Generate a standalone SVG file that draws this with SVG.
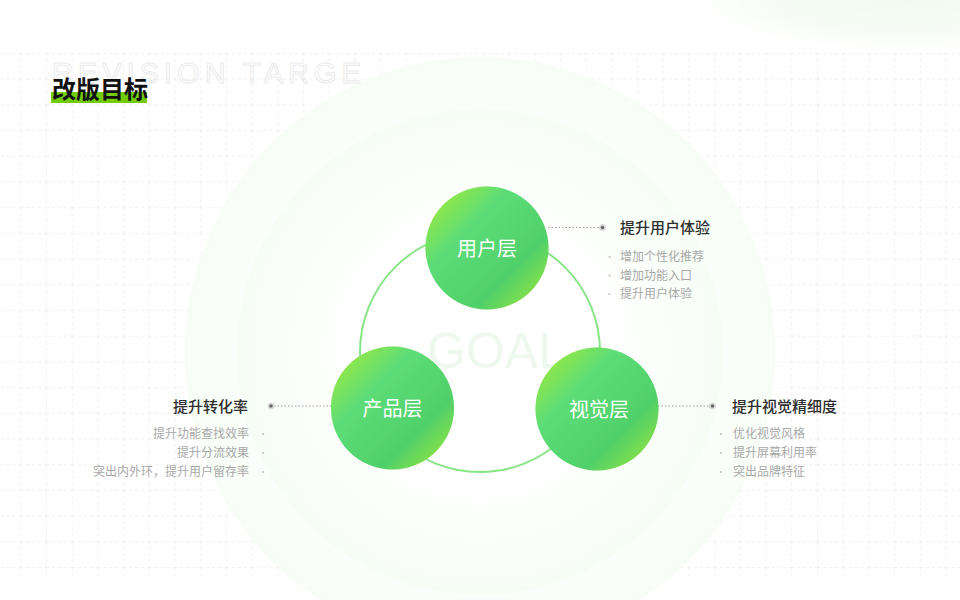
<svg xmlns="http://www.w3.org/2000/svg" width="960" height="600" viewBox="0 0 960 600">
  <defs>
    <style>
      .cjk { font-family: "Noto Sans CJK SC", "Noto Sans", sans-serif; }
      .head { font-family: "Noto Sans CJK SC", sans-serif; font-size: 15px; font-weight: 500; fill: #2e2e2e; }
      .item { font-family: "Noto Sans CJK SC", sans-serif; font-size: 12px; fill: #a8a8a8; }
      .nodelabel { font-family: "Noto Sans CJK SC", sans-serif; font-size: 20px; font-weight: 400; fill: #ffffff; text-anchor: middle; }
      .dotline { stroke: #9a9a9a; stroke-width: 1; stroke-dasharray: 1.5 2; fill: none; }
      .bullet { fill: #c4c4c4; }
      .halo { fill: #dcdcdc; }
      .core { fill: #6a6a6a; }
    </style>
    <pattern id="grid" patternUnits="userSpaceOnUse" x="20.3" y="53" width="25.7" height="25.7">
      <path d="M0 0.5 H25.7 M0.5 0 V25.7" stroke="#f0f0f0" stroke-width="1" stroke-dasharray="3 3" fill="none"/>
    </pattern>
    <radialGradient id="topglow" cx="0.5" cy="0.5" r="0.5">
      <stop offset="0" stop-color="#f0fbee" stop-opacity="1"/>
      <stop offset="0.6" stop-color="#f5fcf4" stop-opacity="0.8"/>
      <stop offset="1" stop-color="#ffffff" stop-opacity="0"/>
    </radialGradient>
    <radialGradient id="ring3" cx="0.5" cy="0.5" r="0.5">
      <stop offset="0.75" stop-color="#fcfffc"/>
      <stop offset="1" stop-color="#f7fdf6"/>
    </radialGradient>
    <radialGradient id="ring2" cx="0.5" cy="0.5" r="0.5">
      <stop offset="0.7" stop-color="#fcfffc"/>
      <stop offset="1" stop-color="#f6fdf5"/>
    </radialGradient>
    <radialGradient id="ring1" cx="0.5" cy="0.5" r="0.5">
      <stop offset="0.6" stop-color="#ffffff"/>
      <stop offset="1" stop-color="#fbfefb"/>
    </radialGradient>
    <radialGradient id="outerfade" cx="0.5" cy="0.5" r="0.5">
      <stop offset="0.8" stop-color="#f8fdf7" stop-opacity="0.9"/>
      <stop offset="1" stop-color="#ffffff" stop-opacity="0"/>
    </radialGradient>
    <linearGradient id="nodefill" x1="0.1" y1="0.1" x2="0.9" y2="0.9">
      <stop offset="0" stop-color="#95e842"/>
      <stop offset="0.3" stop-color="#5ddd78"/>
      <stop offset="0.75" stop-color="#50d06a"/>
      <stop offset="1" stop-color="#8ae245"/>
    </linearGradient>
    <filter id="glow" x="-40%" y="-40%" width="180%" height="180%">
      <feGaussianBlur in="SourceAlpha" stdDeviation="7"/>
      <feFlood flood-color="#86e36a" flood-opacity="0.5"/>
      <feComposite operator="in" in2="SourceAlpha"/>
      <feMerge>
        <feMergeNode/>
        <feMergeNode in="SourceGraphic"/>
      </feMerge>
    </filter>
  </defs>

  <rect x="0" y="0" width="960" height="600" fill="#ffffff"/>
  <!-- grid -->
  <rect x="0" y="52" width="960" height="526" fill="url(#grid)"/>
  <!-- top-right glow -->
  <ellipse cx="910" cy="0" rx="250" ry="58" fill="url(#topglow)"/>

  <!-- concentric background rings -->
  <g id="background-rings">
    <circle cx="480" cy="352" r="320" fill="url(#outerfade)"/>
    <circle cx="480" cy="352" r="295" fill="url(#ring3)"/>
    <circle cx="480" cy="352" r="243" fill="url(#ring2)"/>
    <circle cx="480" cy="352" r="184" fill="url(#ring1)"/>
  </g>

  <!-- title -->
  <g id="title">
    <text x="52" y="83" font-family="Liberation Sans, Arial, sans-serif" font-size="29" letter-spacing="5" fill="none" stroke="#ebebeb" stroke-width="1">REVISION TARGE</text>
    <rect x="51" y="92" width="96" height="11" fill="#72cc0a"/>
    <text x="52" y="98" class="cjk" font-size="24" font-weight="700" fill="#111111">改版目标</text>
  </g>

  <text x="427" y="368" font-family="Liberation Sans, Arial, sans-serif" font-size="50" fill="#eef8ee">GOAL</text>

  <!-- connectors -->
  <g id="connectors">
    <circle cx="480" cy="352" r="120" fill="none" stroke="#88e585" stroke-width="2"/>
    <line class="dotline" x1="548" y1="227.5" x2="600" y2="227.5"/>
    <line class="dotline" x1="274" y1="406" x2="331" y2="406"/>
    <line class="dotline" x1="658" y1="406" x2="710" y2="406"/>
  </g>

  <!-- nodes -->
  <g id="node-user">
    <circle cx="487" cy="248" r="61.5" fill="url(#nodefill)" filter="url(#glow)"/>
    <text class="nodelabel" x="487" y="256">用户层</text>
  </g>
  <g id="node-product">
    <circle cx="392.5" cy="408" r="61.5" fill="url(#nodefill)" filter="url(#glow)"/>
    <text class="nodelabel" x="392.5" y="416">产品层</text>
  </g>
  <g id="node-visual">
    <circle cx="597" cy="409" r="61.5" fill="url(#nodefill)" filter="url(#glow)"/>
    <text class="nodelabel" x="599" y="417">视觉层</text>
  </g>

  <!-- annotation: user -->
  <g id="note-user">
    <circle class="halo" cx="602.5" cy="227.5" r="3.5"/>
    <circle class="core" cx="602.5" cy="227.5" r="1.8"/>
    <text class="head" x="620" y="233">提升用户体验</text>
    <circle class="bullet" cx="609.5" cy="257" r="1.1"/>
    <circle class="bullet" cx="609.5" cy="275.5" r="1.1"/>
    <circle class="bullet" cx="609.5" cy="294" r="1.1"/>
    <text class="item" x="620" y="261">增加个性化推荐</text>
    <text class="item" x="620" y="279.5">增加功能入口</text>
    <text class="item" x="620" y="298">提升用户体验</text>
  </g>

  <!-- annotation: product -->
  <g id="note-product">
    <circle class="halo" cx="271" cy="406" r="3.5"/>
    <circle class="core" cx="271" cy="406" r="1.8"/>
    <text class="head" x="248" y="411.5" text-anchor="end">提升转化率</text>
    <circle class="bullet" cx="263" cy="434" r="1.1"/>
    <circle class="bullet" cx="263" cy="453" r="1.1"/>
    <circle class="bullet" cx="263" cy="472" r="1.1"/>
    <text class="item" x="249" y="437.5" text-anchor="end">提升功能查找效率</text>
    <text class="item" x="249" y="456.5" text-anchor="end">提升分流效果</text>
    <text class="item" x="249" y="475.5" text-anchor="end">突出内外环，提升用户留存率</text>
  </g>

  <!-- annotation: visual -->
  <g id="note-visual">
    <circle class="halo" cx="712.5" cy="406" r="3.5"/>
    <circle class="core" cx="712.5" cy="406" r="1.8"/>
    <text class="head" x="732" y="411.5">提升视觉精细度</text>
    <circle class="bullet" cx="721" cy="434" r="1.1"/>
    <circle class="bullet" cx="721" cy="453" r="1.1"/>
    <circle class="bullet" cx="721" cy="472" r="1.1"/>
    <text class="item" x="733" y="438">优化视觉风格</text>
    <text class="item" x="733" y="457">提升屏幕利用率</text>
    <text class="item" x="733" y="476">突出品牌特征</text>
  </g>
</svg>
